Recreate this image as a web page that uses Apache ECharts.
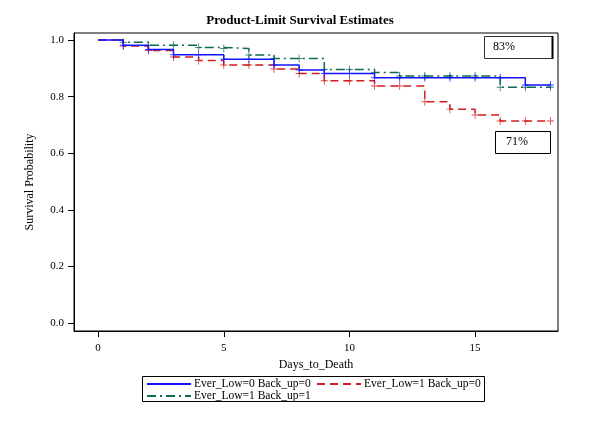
<!DOCTYPE html>
<html>
<head>
<meta charset="utf-8">
<script src="https://cdn.jsdelivr.net/npm/echarts@6/dist/echarts.min.js"></script>
<style>html,body{margin:0;padding:0;background:#fff}#c{width:600px;height:437px}</style>
</head>
<body>
<div id="c"></div>
<script>
// ---- data ----
const seriesNames = ['Ever_Low=0 Back_up=0', 'Ever_Low=1 Back_up=0', 'Ever_Low=1 Back_up=1'];
const blueTimes = [0, 1, 2, 3, 5, 7, 8, 9, 11, 17, 18];
const blueSurv  = [1, 0.982, 0.967, 0.948, 0.932, 0.912, 0.894, 0.882, 0.867, 0.841, 0.841];
const redTimes  = [0, 1, 2, 3, 4, 5, 7, 8, 9, 11, 13, 14, 15, 16, 18];
const redSurv   = [1, 0.979, 0.963, 0.940, 0.928, 0.912, 0.898, 0.882, 0.856, 0.838, 0.782, 0.756, 0.735, 0.714, 0.714];
const greenTimes = [0, 1, 2, 4, 5, 6, 7, 9, 11, 12, 16, 18];
const greenSurv  = [1, 0.992, 0.982, 0.974, 0.970, 0.947, 0.935, 0.896, 0.885, 0.873, 0.833, 0.833];
const censorTimes = [1, 2, 3, 4, 5, 6, 7, 8, 9, 10, 11, 12, 13, 14, 15, 16, 17, 18];
const xTicks = [0, 5, 10, 15];
const yTicks = [0, 0.2, 0.4, 0.6, 0.8, 1.0];
const annotations = ['83%', '71%'];

const colors = ['#1414ff', '#d41c1c', '#0c6b56'];
const FONT = '"Liberation Serif", "Times New Roman", serif';

function pairs(t, s) { return t.map((x, i) => [x, s[i]]); }
function survAt(t, s, x) { let v = s[0]; for (let i = 0; i < t.length; i++) { if (t[i] <= x) v = s[i]; } return v; }
function censor(t, s) { return censorTimes.map(x => [x, survAt(t, s, x)]); }

const plus = 'path://M4.4,0H5.6V10H4.4ZM0,4.4H10V5.6H0Z';
const sets = [[blueTimes, blueSurv], [redTimes, redSurv], [greenTimes, greenSurv]];
const dashes = ['solid', [8, 5], [9, 4, 2, 4]];

const series = [];
sets.forEach((d, i) => {
  series.push({
    name: seriesNames[i], type: 'line', step: 'end', data: pairs(d[0], d[1]),
    symbol: 'none', showSymbol: false, silent: true, animation: false,
    z: 3 - i,
    lineStyle: { color: colors[i], width: 1.5, type: dashes[i] },
    itemStyle: { color: colors[i] }
  });
  series.push({
    name: 'c' + i, type: 'scatter', data: censor(d[0], d[1]),
    symbol: plus, symbolSize: [7, 8], silent: true, animation: false,
    itemStyle: { color: colors[i], opacity: 0.8 }, z: 3 - i
  });
});

const chart = echarts.init(document.getElementById('c'), null, { renderer: 'canvas' });
const legendBase = {
  orient: 'horizontal', itemWidth: 44, itemHeight: 10, itemGap: 4, selectedMode: false,
  itemStyle: { color: 'rgba(0,0,0,0)', borderColor: 'rgba(0,0,0,0)', borderWidth: 0, opacity: 0 },
  textStyle: { fontFamily: FONT, fontSize: 11.5, color: '#000', padding: [0, 0, 0, -2] },
  padding: 0
};
chart.setOption({
  animation: false,
  backgroundColor: '#fff',
  title: {
    text: 'Product-Limit Survival Estimates', left: 'center', top: 9,
    textStyle: { fontFamily: FONT, fontSize: 13, fontWeight: 'bold', color: '#000' }
  },
  grid: { left: 74, right: 42, top: 33, bottom: 106 },
  xAxis: {
    type: 'value', min: -0.96, max: 18.3,
    name: 'Days_to_Death', nameLocation: 'middle', nameGap: 25,
    nameTextStyle: { fontFamily: FONT, fontSize: 12, color: '#000' },
    axisLine: { show: true, onZero: false, lineStyle: { color: '#000', width: 1 } },
    axisTick: { show: true, length: 6, customValues: xTicks, lineStyle: { color: '#000' } },
    axisLabel: { customValues: xTicks, margin: 12, fontFamily: FONT, fontSize: 11, color: '#000' },
    splitLine: { show: false }
  },
  yAxis: {
    type: 'value', min: -0.028, max: 1.025,
    name: 'Survival Probability', nameLocation: 'middle', nameGap: 38,
    nameTextStyle: { fontFamily: FONT, fontSize: 12, color: '#000' },
    axisLine: { show: true, onZero: false, lineStyle: { color: '#000', width: 1 } },
    axisTick: { show: true, length: 6, customValues: yTicks, lineStyle: { color: '#000' } },
    axisLabel: { customValues: yTicks, margin: 10, fontFamily: FONT, fontSize: 11, color: '#000',
      formatter: v => v.toFixed(1) },
    splitLine: { show: false }
  },
  legend: [
    Object.assign({}, legendBase, { data: [seriesNames[0]], left: 146, top: 378 }),
    Object.assign({}, legendBase, { data: [seriesNames[1]], left: 316, top: 378 }),
    Object.assign({}, legendBase, { data: [seriesNames[2]], left: 146, top: 390 })
  ],
  graphic: [
    { type: 'rect', shape: { x: 74, y: 33, width: 484, height: 298 }, style: { fill: null, stroke: '#000', lineWidth: 1 }, silent: true, z: 10 },
    { type: 'rect', shape: { x: 142.5, y: 376.5, width: 342, height: 25 }, style: { fill: null, stroke: '#000', lineWidth: 1 }, silent: true },
    { type: 'rect', shape: { x: 484.5, y: 36.5, width: 68, height: 22 }, style: { fill: '#fff', stroke: '#333', lineWidth: 1 }, silent: true, z: 20 },
    { type: 'line', shape: { x1: 552.5, y1: 36, x2: 552.5, y2: 59 }, style: { stroke: '#000', lineWidth: 2 }, silent: true, z: 21 },
    { type: 'text', x: 493, y: 41, style: { text: annotations[0], fontFamily: FONT, fontSize: 12, fill: '#000' }, silent: true, z: 21 },
    { type: 'rect', shape: { x: 495.5, y: 131.5, width: 55, height: 22 }, style: { fill: '#fff', stroke: '#000', lineWidth: 1 }, silent: true, z: 20 },
    { type: 'text', x: 506, y: 136, style: { text: annotations[1], fontFamily: FONT, fontSize: 12, fill: '#000' }, silent: true, z: 21 }
  ],
  series: series
});
</script>
</body>
</html>
